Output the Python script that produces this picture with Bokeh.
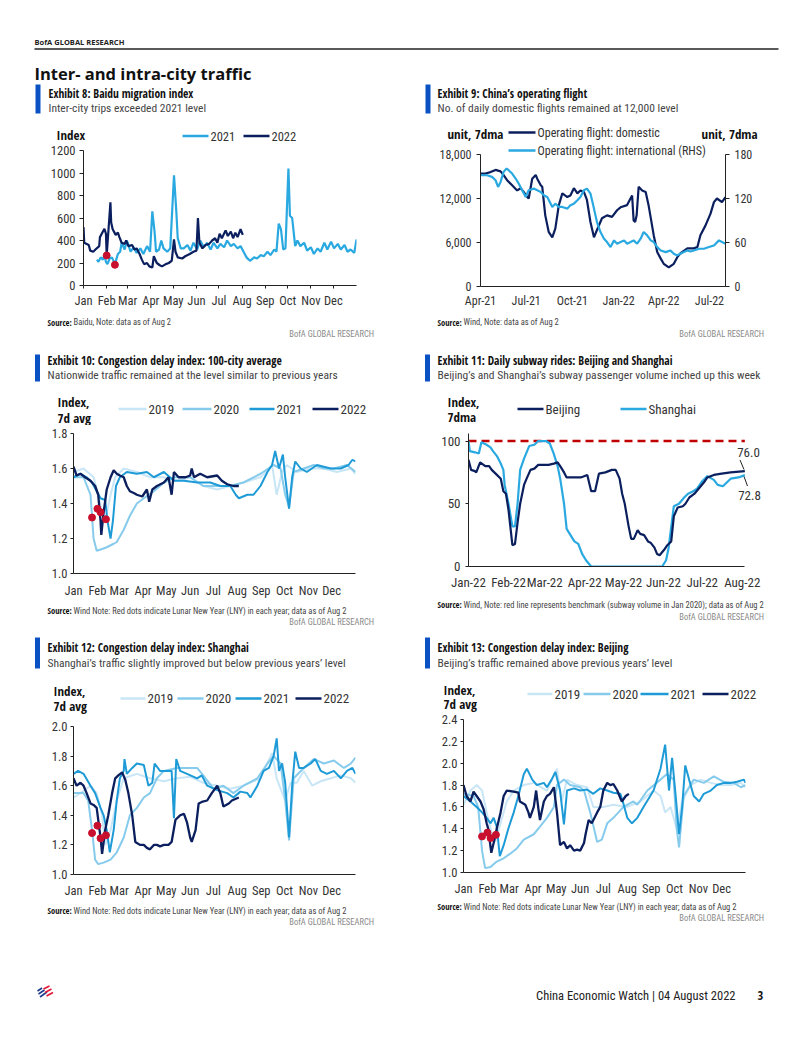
import pandas as pd
from bokeh.plotting import figure
from bokeh.models import (Label, Arrow, Range1d, LinearAxis, FixedTicker,
                          NumeralTickFormatter, DatetimeTickFormatter, MonthsTicker)
from bokeh.layouts import column, row
from bokeh.embed import file_html
from bokeh.resources import INLINE

# ---------------------------------------------------------------- data
MONTH_STARTS = [0, 31, 59, 90, 120, 151, 181, 212, 243, 273, 304, 334]
MONTH_LABELS = ["Jan", "Feb", "Mar", "Apr", "May", "Jun", "Jul", "Aug", "Sep", "Oct", "Nov", "Dec"]

# Exhibit 8: Baidu migration index (x = day of year)
BAIDU_2021_DAY = [18, 20, 23, 26, 28, 30, 32, 35, 38, 42, 46, 49, 51, 55, 58, 63, 67, 71, 76, 80,
                  85, 89, 92, 95, 97, 101, 104, 107, 112, 116, 121, 124, 126, 130, 134, 139, 143, 147, 152, 156,
                  161, 165, 170, 174, 179, 183, 188, 192, 197, 201, 206, 210, 214, 218, 221, 223, 228, 232, 237, 241,
                  246, 250, 255, 258, 261, 264, 267, 270, 274, 276, 279, 283, 286, 290, 295, 299, 304, 308, 313, 317,
                  322, 326, 331, 335, 340, 344, 349, 353, 357, 362, 365]
BAIDU_2021 = [230, 210, 250, 230, 270, 210, 190, 240, 250, 190, 280, 300, 380, 320, 400, 300, 340, 290, 330, 280,
              350, 300, 660, 480, 300, 320, 400, 330, 300, 330, 980, 670, 420, 330, 330, 360, 310, 380, 320, 400,
              340, 380, 320, 380, 330, 370, 340, 400, 350, 370, 330, 350, 300, 250, 230, 220, 250, 240, 270, 260,
              300, 270, 320, 300, 550, 500, 320, 330, 1040, 620, 600, 350, 400, 350, 380, 310, 340, 280, 330, 300,
              380, 320, 390, 330, 370, 320, 360, 300, 320, 290, 410]
BAIDU_2022_DAY = [0, 1, 7, 9, 13, 16, 21, 22, 26, 28, 30, 31, 36, 37, 39, 43, 46, 48, 51, 55,
                  57, 60, 65, 68, 71, 75, 78, 81, 85, 88, 92, 94, 98, 102, 105, 110, 114, 118, 121, 123,
                  126, 132, 136, 142, 147, 151, 153, 155, 159, 163, 168, 172, 176, 179, 182, 185, 190, 193, 197, 200,
                  203, 206, 210, 213]
BAIDU_2022 = [520, 380, 360, 310, 300, 320, 350, 430, 480, 505, 460, 267, 740, 560, 500, 450, 470, 430, 380, 370,
              400, 350, 360, 320, 330, 280, 230, 190, 200, 170, 160, 260, 200, 180, 170, 190, 200, 220, 410, 300,
              250, 240, 260, 280, 300, 310, 600, 380, 330, 360, 370, 400, 420, 380, 460, 420, 490, 440, 480, 420,
              470, 430, 500, 450]
BAIDU_LNY_DAY = [31, 42]
BAIDU_LNY = [267, 184]

# Exhibit 9: operating flights
DOM_DATE = ["2021-04-01", "2021-04-11", "2021-04-21", "2021-05-01", "2021-05-11", "2021-05-17", "2021-05-24",
            "2021-06-03", "2021-06-13", "2021-06-20", "2021-06-26", "2021-07-03", "2021-07-06", "2021-07-13",
            "2021-07-20", "2021-07-23", "2021-07-30", "2021-08-02", "2021-08-08", "2021-08-15", "2021-08-22",
            "2021-08-28", "2021-09-04", "2021-09-11", "2021-09-21", "2021-09-27", "2021-10-04", "2021-10-11",
            "2021-10-17", "2021-10-24", "2021-10-30", "2021-11-06", "2021-11-13", "2021-11-19", "2021-11-29",
            "2021-12-09", "2021-12-19", "2021-12-29", "2022-01-05", "2022-01-18", "2022-01-28", "2022-01-31",
            "2022-02-03", "2022-02-06", "2022-02-10", "2022-02-17", "2022-02-24", "2022-03-02", "2022-03-12",
            "2022-03-19", "2022-03-26", "2022-04-01", "2022-04-11", "2022-04-21", "2022-04-28", "2022-05-04",
            "2022-05-18", "2022-05-31", "2022-06-07", "2022-06-13", "2022-06-23", "2022-07-03", "2022-07-10",
            "2022-07-16", "2022-07-26", "2022-08-02"]
DOMESTIC = [15400, 15400, 15600, 15900, 15700, 15200, 14500, 13800, 13100, 13400, 12900, 12200, 12000, 14700,
            15200, 14700, 13800, 13600, 9700, 7400, 6700, 7900, 11100, 12700, 12200, 12400, 13400, 12700,
            13100, 12900, 11800, 8800, 6700, 7700, 9300, 9700, 9500, 10400, 10800, 11100, 12400, 9000,
            8800, 9700, 13600, 13100, 12900, 11000, 7000, 4700, 3800, 3100, 2600, 3100, 4000, 4500,
            5200, 5200, 5400, 7000, 8300, 9900, 11500, 12000, 11500, 12200]
INTL_DATE = ["2021-04-01", "2021-04-14", "2021-04-24", "2021-05-01", "2021-05-06", "2021-05-11", "2021-05-17",
             "2021-05-23", "2021-05-27", "2021-06-03", "2021-06-10", "2021-06-16", "2021-06-23", "2021-06-30",
             "2021-07-06", "2021-07-16", "2021-07-23", "2021-07-30", "2021-08-05", "2021-08-12", "2021-08-22",
             "2021-08-28", "2021-09-04", "2021-09-11", "2021-09-21", "2021-09-27", "2021-10-04", "2021-10-11",
             "2021-10-17", "2021-10-24", "2021-10-30", "2021-11-06", "2021-11-13", "2021-11-19", "2021-11-26",
             "2021-12-03", "2021-12-09", "2021-12-16", "2021-12-23", "2021-12-29", "2022-01-05", "2022-01-12",
             "2022-01-18", "2022-01-25", "2022-01-31", "2022-02-07", "2022-02-14", "2022-02-20", "2022-02-27",
             "2022-03-06", "2022-03-12", "2022-03-19", "2022-03-26", "2022-04-05", "2022-04-14", "2022-04-21",
             "2022-04-28", "2022-05-04", "2022-05-11", "2022-05-18", "2022-05-24", "2022-05-31", "2022-06-10",
             "2022-06-20", "2022-06-30", "2022-07-10", "2022-07-20", "2022-07-26", "2022-08-02"]
INTERNATIONAL = [151.7, 151.7, 149.5, 144.9, 135.8, 142.6, 156.3, 160.9, 158.6, 154.0, 147.2, 140.4, 131.2, 122.1,
                 131.2, 133.5, 131.2, 129.0, 124.4, 122.1, 108.5, 113.0, 108.5, 108.5, 106.2, 110.8, 113.0, 117.6,
                 122.1, 131.2, 133.5, 126.7, 106.2, 87.9, 74.3, 65.2, 60.6, 53.8, 62.9, 58.3, 60.6, 62.9,
                 58.3, 60.6, 62.9, 58.3, 65.2, 74.3, 69.7, 62.9, 60.6, 53.8, 49.2, 46.9, 49.2, 44.7,
                 42.4, 44.7, 46.9, 49.2, 47.8, 49.2, 51.5, 51.5, 53.8, 56.0, 62.9, 60.6, 58.3]

# Exhibit 10: congestion delay index, 100-city average
C10_2019_DAY = [0, 13, 26, 32, 37, 41, 48, 54, 65, 82, 99, 117, 134, 151, 168, 186, 203, 220, 242, 257,
                263, 270, 276, 289, 307, 324, 341, 359, 365]
C10_2019 = [1.58, 1.60, 1.55, 1.45, 1.35, 1.30, 1.45, 1.55, 1.60, 1.58, 1.55, 1.55, 1.53, 1.55, 1.50, 1.48, 1.50,
            1.52, 1.55, 1.62, 1.45, 1.58, 1.62, 1.58, 1.60, 1.60, 1.58, 1.60, 1.57]
C10_2020_DAY = [0, 13, 22, 26, 30, 37, 43, 52, 56, 65, 73, 82, 91, 104, 117, 130, 151, 168, 186, 203,
                220, 242, 259, 268, 274, 279, 285, 298, 311, 324, 337, 354, 365]
C10_2020 = [1.55, 1.55, 1.45, 1.20, 1.13, 1.14, 1.15, 1.17, 1.18, 1.25, 1.33, 1.40, 1.43, 1.47, 1.52, 1.55, 1.55,
            1.50, 1.50, 1.50, 1.52, 1.57, 1.62, 1.60, 1.45, 1.38, 1.58, 1.60, 1.62, 1.60, 1.60, 1.62, 1.58]
C10_2021_DAY = [0, 9, 17, 24, 30, 35, 41, 44, 48, 51, 55, 60, 69, 82, 95, 104, 117, 130, 143, 160,
                177, 190, 203, 210, 214, 225, 233, 242, 251, 257, 261, 266, 271, 274, 279, 283, 287, 294, 302, 315,
                333, 346, 356, 361, 365]
C10_2021 = [1.55, 1.57, 1.55, 1.52, 1.47, 1.43, 1.42, 1.30, 1.20, 1.30, 1.50, 1.55, 1.58, 1.57, 1.58, 1.55, 1.58,
            1.53, 1.53, 1.52, 1.52, 1.50, 1.50, 1.45, 1.43, 1.45, 1.45, 1.50, 1.58, 1.62, 1.70, 1.60, 1.68, 1.55,
            1.37, 1.55, 1.64, 1.60, 1.58, 1.62, 1.60, 1.60, 1.62, 1.65, 1.64]
C10_2022_DAY = [0, 4, 9, 15, 22, 28, 32, 35, 36, 39, 43, 48, 52, 56, 60, 65, 69, 73, 78, 82,
                89, 95, 98, 102, 108, 117, 123, 127, 130, 136, 145, 151, 153, 156, 164, 173, 186, 192, 199, 207, 214]
C10_2022 = [1.61, 1.56, 1.57, 1.55, 1.53, 1.50, 1.45, 1.30, 1.22, 1.35, 1.48, 1.55, 1.59, 1.57, 1.56, 1.55, 1.50,
            1.47, 1.46, 1.45, 1.44, 1.48, 1.41, 1.48, 1.50, 1.52, 1.55, 1.45, 1.58, 1.55, 1.55, 1.56, 1.60, 1.55,
            1.57, 1.55, 1.56, 1.53, 1.51, 1.50, 1.50]
C10_LNY_DAY = [24, 31, 35, 42]
C10_LNY = [1.32, 1.37, 1.35, 1.31]

# Exhibit 11: daily subway rides (x = day of 2022)
BJ_DAY = [0, 2, 5, 6, 9, 13, 16, 18, 22, 25, 27, 29, 31, 34, 36, 38, 40, 43, 45, 48,
          51, 54, 58, 62, 66, 69, 71, 74, 76, 82, 87, 92, 95, 98, 101, 106, 111, 114, 117, 119,
          121, 124, 126, 128, 131, 133, 136, 139, 141, 144, 146, 148, 152, 154, 157, 159, 162, 166, 168, 171,
          175, 179, 183, 185, 190, 196, 203, 214]
BEIJING = [85, 77, 76, 75, 83, 80, 80, 77, 73, 70, 60, 58, 45, 17, 18, 35, 50, 65, 70, 77,
           78, 81, 81, 81, 82, 83, 80, 75, 71, 71, 71, 73, 60, 60, 74, 75, 77, 77, 70, 58,
           50, 32, 22, 22, 29, 26, 25, 20, 19, 15, 10, 9, 14, 17, 20, 40, 47, 48, 50, 55,
           58, 63, 68, 71, 73, 74, 75, 76.0]
SH_DAY = [0, 1, 5, 8, 10, 14, 17, 19, 22, 25, 27, 28, 31, 34, 36, 38, 40, 43, 47, 51,
          54, 60, 63, 66, 69, 71, 74, 76, 79, 82, 85, 88, 91, 95, 150, 153, 155, 159, 163, 167,
          170, 174, 177, 181, 185, 190, 193, 197, 199, 203, 209, 214]
SHANGHAI = [100, 92, 91, 90, 99, 97, 95, 92, 88, 82, 77, 65, 50, 32, 32, 50, 77, 86, 96, 97,
            100, 100, 98, 90, 80, 70, 50, 30, 25, 20, 18, 10, 5, 0, 0, 5, 15, 48, 50, 55,
            58, 60, 62, 68, 72, 69, 65, 64, 66, 70, 71, 72.8]
BENCHMARK = 100

# Exhibit 12: congestion delay index, Shanghai
C12_2019_DAY = [0, 9, 22, 30, 37, 41, 48, 56, 65, 82, 99, 117, 134, 151, 168, 186, 203, 220, 242, 257,
                263, 268, 274, 281, 289, 298, 309, 320, 333, 346, 359, 365]
C12_2019 = [1.52, 1.55, 1.60, 1.55, 1.40, 1.20, 1.30, 1.50, 1.65, 1.68, 1.65, 1.63, 1.65, 1.66, 1.62, 1.60, 1.58,
            1.60, 1.65, 1.82, 1.65, 1.58, 1.50, 1.62, 1.62, 1.70, 1.60, 1.63, 1.65, 1.67, 1.65, 1.62]
C12_2020_DAY = [0, 13, 19, 24, 28, 32, 39, 48, 56, 65, 73, 82, 91, 99, 108, 117, 134, 143, 160, 168,
                181, 194, 207, 220, 238, 251, 259, 268, 274, 279, 285, 298, 311, 324, 337, 350, 359, 365]
C12_2020 = [1.55, 1.55, 1.50, 1.30, 1.10, 1.07, 1.08, 1.10, 1.15, 1.25, 1.40, 1.45, 1.52, 1.55, 1.65, 1.70, 1.72,
            1.72, 1.72, 1.67, 1.58, 1.60, 1.55, 1.60, 1.65, 1.75, 1.80, 1.75, 1.50, 1.23, 1.65, 1.72, 1.78, 1.75,
            1.77, 1.72, 1.75, 1.79]
C12_2021_DAY = [0, 6, 13, 22, 28, 35, 39, 43, 47, 52, 56, 60, 65, 66, 69, 76, 82, 91, 97, 102,
                105, 112, 121, 127, 130, 133, 138, 147, 160, 166, 173, 186, 199, 207, 216, 225, 229, 238, 246, 253,
                259, 263, 266, 270, 274, 279, 283, 287, 292, 298, 307, 313, 320, 328, 337, 346, 354, 361, 365]
C12_2021 = [1.68, 1.70, 1.68, 1.60, 1.55, 1.45, 1.40, 1.30, 1.15, 1.30, 1.50, 1.65, 1.70, 1.78, 1.68, 1.72, 1.75,
            1.74, 1.60, 1.62, 1.75, 1.70, 1.70, 1.70, 1.38, 1.78, 1.70, 1.68, 1.65, 1.67, 1.60, 1.57, 1.55, 1.52,
            1.56, 1.55, 1.52, 1.60, 1.70, 1.72, 1.80, 1.92, 1.70, 1.75, 1.62, 1.25, 1.60, 1.83, 1.72, 1.72, 1.75,
            1.78, 1.70, 1.68, 1.70, 1.65, 1.70, 1.72, 1.68]
C12_2022_DAY = [0, 4, 9, 13, 17, 22, 26, 30, 35, 37, 41, 45, 50, 54, 58, 63, 67, 71, 76, 80,
                86, 91, 95, 99, 104, 108, 112, 117, 123, 127, 132, 138, 143, 147, 151, 153, 158, 162, 166, 173,
                179, 186, 190, 194, 201, 205, 214]
C12_2022 = [1.65, 1.60, 1.62, 1.60, 1.55, 1.48, 1.47, 1.45, 1.25, 1.14, 1.30, 1.40, 1.55, 1.65, 1.67, 1.69, 1.64,
            1.55, 1.40, 1.22, 1.20, 1.20, 1.18, 1.17, 1.20, 1.20, 1.19, 1.20, 1.20, 1.22, 1.37, 1.40, 1.41, 1.35,
            1.25, 1.22, 1.30, 1.48, 1.49, 1.50, 1.55, 1.60, 1.55, 1.46, 1.48, 1.50, 1.52]
C12_LNY_DAY = [24, 31, 35, 42]
C12_LNY = [1.28, 1.33, 1.245, 1.265]

# Exhibit 13: congestion delay index, Beijing
C13_2019_DAY = [0, 9, 17, 24, 30, 37, 41, 48, 56, 65, 78, 91, 108, 121, 127, 134, 147, 160, 168, 181,
                194, 212, 229, 246, 255, 261, 268, 276, 283, 294, 307, 320, 333, 346, 359, 365]
C13_2019 = [1.62, 1.75, 1.80, 1.75, 1.55, 1.35, 1.28, 1.45, 1.65, 1.75, 1.80, 1.82, 1.75, 1.95, 1.65, 1.85, 1.80,
            1.78, 1.60, 1.60, 1.62, 1.60, 1.65, 1.75, 1.70, 1.55, 1.60, 1.40, 1.65, 1.80, 1.85, 1.82, 1.80, 1.80,
            1.82, 1.78]
C13_2020_DAY = [0, 13, 19, 24, 28, 35, 43, 52, 60, 69, 78, 91, 99, 108, 117, 121, 130, 138, 151, 156,
                164, 173, 179, 186, 194, 207, 220, 225, 238, 255, 263, 272, 276, 279, 285, 298, 311, 324, 337, 350,
                359, 365]
C13_2020 = [1.72, 1.70, 1.60, 1.20, 1.04, 1.05, 1.10, 1.13, 1.17, 1.22, 1.30, 1.35, 1.42, 1.50, 1.60, 1.80, 1.85,
            1.80, 1.78, 1.75, 1.55, 1.28, 1.30, 1.45, 1.50, 1.60, 1.65, 1.62, 1.75, 1.85, 1.90, 1.85, 1.40, 1.23,
            1.70, 1.85, 1.82, 1.88, 1.83, 1.82, 1.78, 1.80]
C13_2021_DAY = [0, 9, 17, 24, 30, 35, 39, 43, 47, 52, 58, 65, 71, 78, 82, 89, 95, 104, 108, 114,
                119, 125, 130, 134, 143, 151, 160, 168, 177, 186, 194, 203, 207, 212, 218, 225, 233, 246, 255, 261,
                266, 270, 274, 279, 283, 287, 292, 298, 305, 311, 320, 328, 337, 346, 354, 363, 365]
C13_2021 = [1.70, 1.65, 1.60, 1.55, 1.50, 1.45, 1.50, 1.42, 1.15, 1.25, 1.40, 1.55, 1.70, 1.90, 1.95, 1.85, 1.80,
            1.82, 1.78, 1.85, 1.92, 1.75, 1.44, 1.75, 1.77, 1.75, 1.76, 1.72, 1.77, 1.75, 1.73, 1.72, 1.63, 1.50,
            1.45, 1.50, 1.60, 1.75, 1.95, 2.17, 1.75, 2.05, 1.75, 1.35, 1.60, 1.98, 1.85, 1.70, 1.65, 1.72, 1.75,
            1.80, 1.82, 1.82, 1.83, 1.85, 1.82]
C13_2022_DAY = [0, 4, 9, 13, 17, 22, 26, 30, 32, 36, 40, 43, 48, 52, 56, 65, 71, 73, 80, 84,
                86, 91, 94, 97, 99, 104, 108, 112, 117, 121, 125, 130, 134, 138, 143, 147, 151, 156, 158, 162,
                166, 173, 177, 181, 186, 190, 194, 199, 203, 205, 210, 214]
C13_2022 = [1.80, 1.70, 1.65, 1.74, 1.70, 1.65, 1.58, 1.45, 1.40, 1.18, 1.30, 1.40, 1.55, 1.70, 1.75, 1.74, 1.73,
            1.65, 1.62, 1.55, 1.50, 1.60, 1.75, 1.58, 1.48, 1.65, 1.70, 1.72, 1.78, 1.55, 1.25, 1.28, 1.22, 1.25,
            1.20, 1.21, 1.20, 1.27, 1.35, 1.48, 1.45, 1.55, 1.60, 1.75, 1.82, 1.80, 1.81, 1.75, 1.68, 1.65, 1.70,
            1.72]
C13_LNY_DAY = [24, 31, 35, 42]
C13_LNY = [1.33, 1.365, 1.315, 1.345]

# ---------------------------------------------------------------- styles
NAVY = "#0B1F5E"
C2021 = "#1E9BD7"
C2020 = "#86CBEC"
C2019 = "#C9E6F6"
CYAN = "#2AA9E1"
RED = "#C8102E"
BAR = "#0A52C4"
COND = "Open Sans Condensed"   # bold condensed
RC = "Roboto Condensed"        # regular condensed
OPEN = "Open Sans"


def make_fig(box, frame, x_range, y_range, **kw):
    fx0, fy0, w, h = box
    L, T, R, B = frame
    mbl, mbr = int(round(L - fx0)), int(round(fx0 + w - R))
    mbt, mbb = int(round(T - fy0)), int(round(fy0 + h - B))
    p = figure(width=w, height=h, x_range=x_range, y_range=y_range,
               output_backend="svg", toolbar_location=None,
               min_border_left=mbl, min_border_right=mbr,
               min_border_top=mbt, min_border_bottom=mbb, **kw)
    p.frame_align = False
    p.outline_line_color = None
    p.background_fill_color = "white"
    p.border_fill_color = "white"
    p.grid.visible = False
    return p, (fx0 + mbl, fy0 + h - mbb)


def band(box):
    fx0, fy0, w, h = box
    return make_fig(box, (fx0, fy0, fx0 + w, fy0 + h), Range1d(0, 1), Range1d(0, 1),
                    x_axis_location=None, y_axis_location=None)


def txt(p, geo, X, Y, text, size, font=RC, bold=False, color="#222", align="left"):
    L, B = geo
    p.add_layout(Label(x=X - L, y=B - Y, x_units="screen", y_units="screen", text=text,
                       text_font=font, text_font_size=f"{size}px",
                       text_font_style="bold" if bold else "normal",
                       text_color=color, text_align=align, text_baseline="middle"))


def seg(p, geo, X0, Y0, X1, Y1, color, width):
    L, B = geo
    p.add_layout(Arrow(end=None, start=None, x_start=X0 - L, y_start=B - Y0, x_end=X1 - L, y_end=B - Y1,
                       start_units="screen", end_units="screen",
                       line_color=color, line_width=width))


def exhibit(p, geo, xbar, xt, y0, y1, yt, ys, title, sub):
    seg(p, geo, xbar, y0, xbar, y1, BAR, 5)
    txt(p, geo, xt, yt, title, 11.5, font=COND, bold=True, color="#111")
    txt(p, geo, xt, ys, sub, 11.5, color="#444")


def bold_label(p, geo, X, Y, text):
    txt(p, geo, X, Y, text, 13, font=COND, bold=True, color="#111")


def source(p, geo, x, y, rest, xr, yr):
    txt(p, geo, x, y, "Source:", 8.5, font=COND, bold=True, color="#111")
    txt(p, geo, x + 26, y, rest, 8.5, color="#444")
    txt(p, geo, xr, yr, "BofA GLOBAL RESEARCH", 8.5, color="#8a8a8a", align="right")


def leg(p, geo, x0, x1, y, color, text, size, width=2.5):
    seg(p, geo, x0, y, x1, y, color, width)
    txt(p, geo, x1 + 2, y, text, size, color="#333")


def style_axes(p, size, xtick=0, ytick=4, xstand=5, ystand=4):
    for ax in list(p.xaxis) + list(p.yaxis):
        ax.axis_line_color = "#222"
        ax.axis_line_width = 1
        ax.major_tick_line_color = "#222"
        ax.minor_tick_line_color = None
        ax.major_tick_in = 0
        ax.major_label_text_font = RC
        ax.major_label_text_font_size = f"{size}px"
        ax.major_label_text_color = "#333"
    for ax in p.xaxis:
        ax.major_tick_out = xtick
        ax.major_label_standoff = xstand
        if xtick == 0:
            ax.major_tick_line_color = None
    for ax in p.yaxis:
        ax.major_tick_out = ytick
        ax.major_label_standoff = ystand


def month_axis(p):
    p.xaxis.ticker = FixedTicker(ticks=MONTH_STARTS)
    p.xaxis.major_label_overrides = dict(zip(MONTH_STARTS, MONTH_LABELS))


# ---------------------------------------------------------------- header
hdr, g = band((0, 0, 800, 84))
txt(hdr, g, 34, 41, "BofA GLOBAL RESEARCH", 7.5, font=OPEN, bold=True, color="#222")
seg(hdr, g, 34, 48.5, 778, 48.5, "#222", 1.5)
txt(hdr, g, 34, 73, "Inter- and intra-city traffic", 16.5, font=OPEN, bold=True, color="#111")

# ---------------------------------------------------------------- Exhibit 8
t8, g = band((0, 84, 400, 59))
exhibit(t8, g, 37.5, 48, 83, 113, 92.5, 107.5, "Exhibit 8: Baidu migration index",
        "Inter-city trips exceeded 2021 level")
bold_label(t8, g, 56, 134.5, "Index")
leg(t8, g, 182, 208, 135.5, CYAN, "2021", 12.5)
leg(t8, g, 243, 269, 135.5, NAVY, "2022", 12.5)

p8, g = make_fig((0, 143, 400, 167), (83, 150, 356, 285), Range1d(0, 365), Range1d(0, 1200))
p8.line(BAIDU_2021_DAY, BAIDU_2021, line_color=CYAN, line_width=2.2)
p8.line(BAIDU_2022_DAY, BAIDU_2022, line_color=NAVY, line_width=2.2)
p8.scatter(BAIDU_LNY_DAY, BAIDU_LNY, size=7, color=RED)
month_axis(p8)
p8.yaxis.ticker = FixedTicker(ticks=[0, 200, 400, 600, 800, 1000, 1200])
style_axes(p8, 12.5, xtick=3, ytick=4, xstand=4, ystand=4)

b8, g = band((0, 310, 400, 30))
source(b8, g, 47, 321.5, "Baidu, Note: data as of Aug 2", 373.5, 333.5)

# ---------------------------------------------------------------- Exhibit 9
t9, g = band((400, 84, 400, 60))
exhibit(t9, g, 427.5, 437, 83, 113, 92.5, 107.5, "Exhibit 9: China\u2019s operating flight",
        "No. of daily domestic flights remained at 12,000 level")
bold_label(t9, g, 447, 133, "unit, 7dma")
txt(t9, g, 757, 133, "unit, 7dma", 13, font=COND, bold=True, color="#111", align="right")
leg(t9, g, 508, 535, 132, NAVY, "Operating flight: domestic", 12)

p9, g = make_fig((400, 144, 400, 166), (480, 144, 725, 286),
                 Range1d(pd.Timestamp("2021-04-01"), pd.Timestamp("2022-08-02")),
                 Range1d(0, 18000 * 142 / 132), x_axis_type="datetime")
p9.extra_y_ranges = {"rhs": Range1d(0, 180 * 142 / 132)}
p9.add_layout(LinearAxis(y_range_name="rhs", ticker=FixedTicker(ticks=[0, 60, 120, 180]),
                         bounds=(0, 180)), "right")
p9.line(pd.to_datetime(DOM_DATE), DOMESTIC, line_color=NAVY, line_width=2.2)
p9.line(pd.to_datetime(INTL_DATE), INTERNATIONAL, line_color=CYAN, line_width=2.2, y_range_name="rhs")
p9.yaxis[0].ticker = FixedTicker(ticks=[0, 6000, 12000, 18000])
p9.yaxis[0].formatter = NumeralTickFormatter(format="0,0")
p9.yaxis[0].bounds = (0, 18000)
p9.xaxis.ticker = MonthsTicker(months=[0, 3, 6, 9])
p9.xaxis.formatter = DatetimeTickFormatter(months="%b-%y", days="%b-%y", years="%b-%y")
style_axes(p9, 12, xtick=0, ytick=4, xstand=7, ystand=5)
leg(p9, g, 508, 535, 150, CYAN, "Operating flight: international (RHS)", 12)

b9, g = band((400, 310, 400, 30))
source(b9, g, 437, 321.5, "Wind, Note: data as of Aug 2", 763.5, 333.5)

# ---------------------------------------------------------------- Exhibit 10
t10, g = band((0, 340, 400, 85))
exhibit(t10, g, 37, 47, 354, 381, 360, 374.5, "Exhibit 10: Congestion delay index: 100-city average",
        "Nationwide traffic remained at the level similar to previous years")
bold_label(t10, g, 57, 401.5, "Index,")
bold_label(t10, g, 57, 417, "7d avg")
leg(t10, g, 118, 146, 408.5, C2019, "2019", 13)
leg(t10, g, 182, 211, 408.5, C2020, "2020", 13)
leg(t10, g, 249, 274, 408.5, C2021, "2021", 13)
leg(t10, g, 312, 338, 408.5, NAVY, "2022", 13)

p10, g = make_fig((0, 425, 400, 175), (73, 433, 355, 574), Range1d(0, 365), Range1d(1.0, 1.8))
p10.line(C10_2019_DAY, C10_2019, line_color=C2019, line_width=2)
p10.line(C10_2020_DAY, C10_2020, line_color=C2020, line_width=2)
p10.line(C10_2021_DAY, C10_2021, line_color=C2021, line_width=2)
p10.line(C10_2022_DAY, C10_2022, line_color=NAVY, line_width=2.3)
p10.scatter(C10_LNY_DAY, C10_LNY, size=7, color=RED)
month_axis(p10)
p10.yaxis.ticker = FixedTicker(ticks=[1.0, 1.2, 1.4, 1.6, 1.8])
p10.yaxis.formatter = NumeralTickFormatter(format="0.0")
style_axes(p10, 12.5, xtick=0, ytick=3, xstand=9, ystand=3)

b10, g = band((0, 600, 400, 28))
source(b10, g, 47, 610, "Wind Note: Red dots indicate Lunar New Year (LNY) in each year; data as of Aug 2",
       373.5, 621)

# ---------------------------------------------------------------- Exhibit 11
t11, g = band((400, 340, 400, 85))
exhibit(t11, g, 427, 437, 354, 381, 360, 374.5, "Exhibit 11: Daily subway rides: Beijing and Shanghai",
        "Beijing\u2019s and Shanghai\u2019s subway passenger volume inched up this week")
bold_label(t11, g, 447, 401.5, "Index,")
bold_label(t11, g, 447, 416.5, "7dma")
leg(t11, g, 517, 543, 408.5, NAVY, "Beijing", 13)
leg(t11, g, 620, 646, 408.5, CYAN, "Shanghai", 13)

p11, g = make_fig((400, 425, 400, 171), (468, 433, 765, 566),
                  Range1d(pd.Timestamp("2022-01-01"), pd.Timestamp("2022-08-19")), Range1d(0, 106),
                  x_axis_type="datetime")
bj_dates = pd.Timestamp("2022-01-01") + pd.to_timedelta(BJ_DAY, unit="D")
sh_dates = pd.Timestamp("2022-01-01") + pd.to_timedelta(SH_DAY, unit="D")
p11.line([sh_dates[0], bj_dates[-1]], [BENCHMARK, BENCHMARK], line_color="#C00000",
         line_width=2.5, line_dash="8 5")
p11.line(sh_dates, SHANGHAI, line_color=CYAN, line_width=2.2)
p11.line(bj_dates, BEIJING, line_color=NAVY, line_width=2.2)
p11.yaxis.ticker = FixedTicker(ticks=[0, 50, 100])
p11.xaxis.ticker = MonthsTicker(months=list(range(12)))
p11.xaxis.formatter = DatetimeTickFormatter(months="%b-%y", days="%b-%y", years="%b-%y")
p11.xaxis.bounds = (pd.Timestamp("2022-01-01"), pd.Timestamp("2022-08-03"))
style_axes(p11, 13, xtick=0, ytick=3, xstand=8, ystand=5)
txt(p11, g, 748, 452, f"{BEIJING[-1]:.1f}", 13, color="#333", align="center")
txt(p11, g, 749, 495, f"{SHANGHAI[-1]:.1f}", 13, color="#333", align="center")
seg(p11, g, 739.5, 459.5, 743.5, 469, "#222", 1)
seg(p11, g, 743.5, 476, 747, 485.5, "#222", 1)

b11, g = band((400, 596, 400, 32))
source(b11, g, 437, 604,
       "Wind, Note: red line represents benchmark (subway volume in Jan 2020); data as of Aug 2",
       763.5, 616.5)

# ---------------------------------------------------------------- Exhibit 12
t12, g = band((0, 628, 400, 90))
exhibit(t12, g, 37, 47, 637, 668, 647, 662, "Exhibit 12: Congestion delay index: Shanghai",
        "Shanghai\u2019s traffic slightly improved but below previous years\u2019 level")
bold_label(t12, g, 53, 690, "Index,")
bold_label(t12, g, 53, 705, "7d avg")
leg(t12, g, 120, 145, 698, C2019, "2019", 13)
leg(t12, g, 177, 203, 698, C2020, "2020", 13)
leg(t12, g, 235, 261, 698, C2021, "2021", 13)
leg(t12, g, 295, 321, 698, NAVY, "2022", 13)

p12, g = make_fig((0, 718, 400, 182), (73, 726, 355, 875), Range1d(0, 365), Range1d(1.0, 2.0))
p12.line(C12_2019_DAY, C12_2019, line_color=C2019, line_width=2)
p12.line(C12_2020_DAY, C12_2020, line_color=C2020, line_width=2)
p12.line(C12_2021_DAY, C12_2021, line_color=C2021, line_width=2)
p12.line(C12_2022_DAY, C12_2022, line_color=NAVY, line_width=2.3)
p12.scatter(C12_LNY_DAY, C12_LNY, size=7, color=RED)
month_axis(p12)
p12.yaxis.ticker = FixedTicker(ticks=[1.0, 1.2, 1.4, 1.6, 1.8, 2.0])
p12.yaxis.formatter = NumeralTickFormatter(format="0.0")
style_axes(p12, 12.5, xtick=0, ytick=3, xstand=8, ystand=3)

b12, g = band((0, 900, 400, 30))
source(b12, g, 47, 910, "Wind Note: Red dots indicate Lunar New Year (LNY) in each year; data as of Aug 2",
       373.5, 921.5)

# ---------------------------------------------------------------- Exhibit 13
t13, g = band((400, 628, 400, 84))
exhibit(t13, g, 427, 437, 637, 668, 647, 662, "Exhibit 13: Congestion delay index: Beijing",
        "Beijing\u2019s traffic remained above previous years\u2019 level")
bold_label(t13, g, 443, 689, "Index,")
bold_label(t13, g, 443, 703.5, "7d avg")
leg(t13, g, 527, 552, 693.5, C2019, "2019", 13)
leg(t13, g, 583, 610, 693.5, C2020, "2020", 13)
leg(t13, g, 640, 668, 693.5, C2021, "2021", 13)
leg(t13, g, 702, 728, 693.5, NAVY, "2022", 13)

p13, g = make_fig((400, 712, 400, 186), (463, 719, 745, 872), Range1d(0, 365), Range1d(1.0, 2.4))
p13.line(C13_2019_DAY, C13_2019, line_color=C2019, line_width=2)
p13.line(C13_2020_DAY, C13_2020, line_color=C2020, line_width=2)
p13.line(C13_2021_DAY, C13_2021, line_color=C2021, line_width=2)
p13.line(C13_2022_DAY, C13_2022, line_color=NAVY, line_width=2.3)
p13.scatter(C13_LNY_DAY, C13_LNY, size=7, color=RED)
month_axis(p13)
p13.yaxis.ticker = FixedTicker(ticks=[1.0, 1.2, 1.4, 1.6, 1.8, 2.0, 2.2, 2.4])
p13.yaxis.formatter = NumeralTickFormatter(format="0.0")
style_axes(p13, 12.5, xtick=0, ytick=3, xstand=8, ystand=3)

b13, g = band((400, 898, 400, 32))
source(b13, g, 437, 906, "Wind Note: Red dots indicate Lunar New Year (LNY) in each year; data as of Aug 2",
       763.5, 917.5)

# ---------------------------------------------------------------- footer
ftr, g = band((0, 930, 800, 105))
for (a, b, c, d) in [(37, 990.5, 41.5, 987.5), (38, 993.5, 44, 989.5), (39.5, 996.5, 46.5, 991.5)]:
    seg(ftr, g, a, b, c, d, "#1D3C8F", 1.6)
for (a, b, c, d) in [(43, 988.5, 49, 985.5), (44.5, 992, 51, 988.5), (46, 995.5, 52.5, 992)]:
    seg(ftr, g, a, b, c, d, "#E31837", 1.6)
txt(ftr, g, 735, 995, "China Economic Watch | 04 August 2022", 12.5, color="#222", align="right")
txt(ftr, g, 760, 995, "3", 12.5, font=COND, bold=True, color="#111", align="center")

layout = column(hdr, row(column(t8, p8, b8), column(t9, p9, b9)),
                row(column(t10, p10, b10), column(t11, p11, b11)),
                row(column(t12, p12, b12), column(t13, p13, b13)), ftr)
open("out.html", "w").write(file_html(layout, INLINE))
